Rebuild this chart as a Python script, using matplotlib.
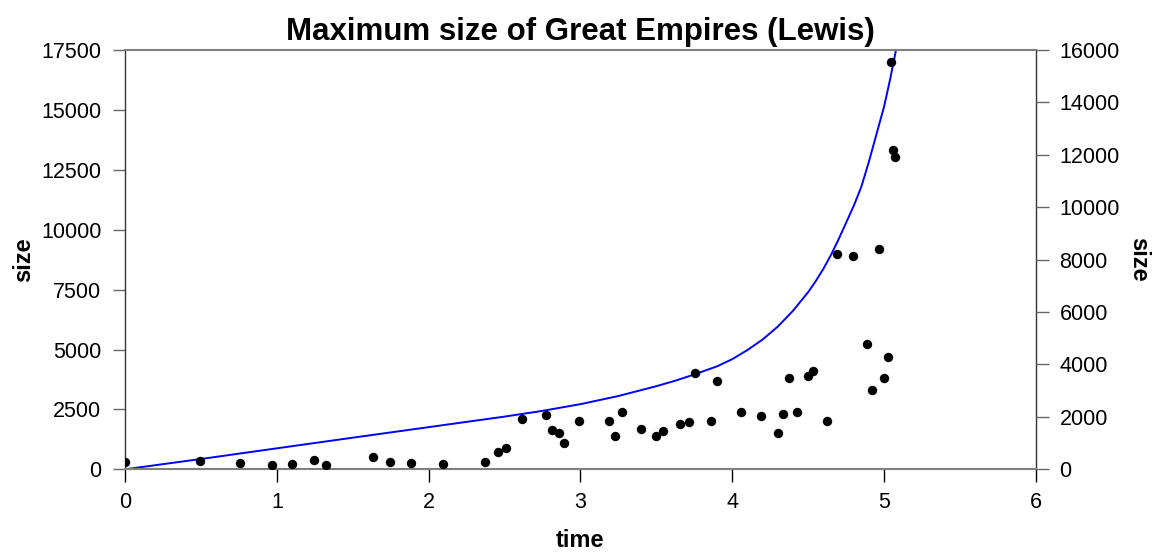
import matplotlib
matplotlib.use("Agg")
import matplotlib.pyplot as plt

# observed maximum extent of empires against time
time = [0.0, 0.494, 0.758, 0.966, 1.098, 1.247, 1.326, 1.636, 1.748, 1.886,
        2.097, 2.37, 2.459, 2.51, 2.613, 2.77, 2.815, 2.857, 2.89, 2.989,
        3.188, 3.226, 3.276, 3.401, 3.498, 3.546, 3.658, 3.715, 3.757, 3.86,
        3.898, 4.058, 4.19, 4.30, 4.337, 4.376, 4.425, 4.50, 4.532, 4.625,
        4.69, 4.798, 4.89, 4.923, 4.967, 4.998, 5.022, 5.042, 5.055, 5.074]
size = [305, 346, 250, 180, 209, 388, 180, 501, 305, 275,
        209, 317, 710, 890, 2100, 2280, 1628, 1503, 1110, 2004,
        2004, 1390, 2404, 1695, 1390, 1599, 1891, 1987, 4007, 2004,
        3698, 2404, 2212, 1503, 2308, 3798, 2404, 3894, 4103, 2004,
        9000, 8903, 5217, 3310, 9208, 3798, 4700, 17013, 13328, 13023]

# fitted model curve
fit_time = [0.0, 0.5, 1.0, 1.5, 2.0, 2.5, 2.75, 3.0, 3.25, 3.5, 3.625,
            3.75, 3.9, 4.0, 4.1, 4.2, 4.3, 4.4, 4.5, 4.55, 4.6, 4.65, 4.7,
            4.8, 4.85, 4.9, 4.95, 5.0, 5.04, 5.078]
fit_size = [0, 430, 876, 1320, 1760, 2200, 2440, 2720, 3060, 3470, 3700,
            3960, 4300, 4600, 4980, 5420, 5960, 6620, 7400, 7860, 8370,
            8950, 9600, 11000, 11800, 12850, 14000, 15150, 16300, 17500]

left_ticks = [0, 2500, 5000, 7500, 10000, 12500, 15000, 17500]
right_ticks = [0, 2000, 4000, 6000, 8000, 10000, 12000, 14000, 16000]
x_ticks = [0, 1, 2, 3, 4, 5, 6]

plt.rcParams["font.family"] = ["Liberation Sans", "DejaVu Sans"]

fig = plt.figure(figsize=(11.52, 5.52), dpi=100)
ax = fig.add_axes([0.1085, 0.1498, 0.7908, 0.7596])

ax.plot(fit_time, fit_size, color="#0000ff", linewidth=1.4, zorder=2)
ax.scatter(time, size, s=46, color="black", zorder=3, linewidths=0)

ax.set_xlim(0, 6)
ax.set_ylim(0, 17500)
ax.set_xticks(x_ticks)
ax.set_yticks(left_ticks)
ax.set_xticklabels([str(t) for t in x_ticks])
ax.set_yticklabels([str(t) for t in left_ticks])

for side in ["top", "bottom"]:
    ax.spines[side].set_color("#7f7f7f")
    ax.spines[side].set_linewidth(1.5)
for side in ["left", "right"]:
    ax.spines[side].set_color("#333333")
    ax.spines[side].set_linewidth(1.0)

ax.tick_params(axis="x", direction="out", length=9, width=1.0, color="black",
               labelsize=15.5, pad=7)
ax.tick_params(axis="y", direction="out", length=9, width=1.0, color="#666666",
               labelsize=15.5, pad=8)

ax2 = ax.twinx()
ax2.set_ylim(0, 16000)
ax2.set_yticks(right_ticks)
ax2.set_yticklabels([str(t) for t in right_ticks])
ax2.tick_params(axis="y", direction="out", length=9, width=1.0, color="#666666",
                labelsize=15.5, pad=8)
for side in ["top", "bottom", "left", "right"]:
    ax2.spines[side].set_visible(False)

ax.set_title("Maximum size of Great Empires (Lewis)", fontsize=22.5,
             fontweight="bold", pad=7)
ax.set_xlabel("time", fontsize=17, fontweight="bold", labelpad=12)
ax.set_ylabel("size", fontsize=17, fontweight="bold", labelpad=4)
ax2.set_ylabel("size", fontsize=17, fontweight="bold", rotation=270,
               labelpad=22)

fig.savefig("out.png", dpi=100)
